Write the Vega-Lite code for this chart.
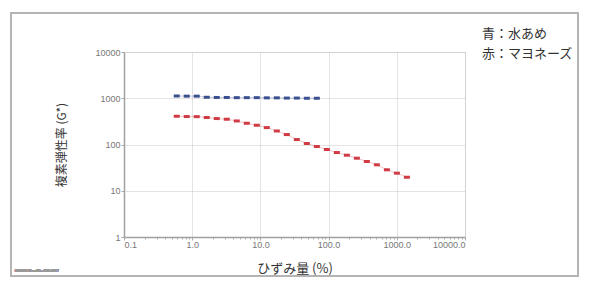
{
  "$schema": "https://vega.github.io/schema/vega-lite/v6.json",
  "width": 341,
  "height": 185,
  "autosize": {"type": "none"},
  "padding": {"left": 124, "top": 52, "right": 126, "bottom": 54},
  "background": "white",
  "title": {
    "text": ["青：水あめ", "赤：マヨネーズ"],
    "anchor": "end",
    "align": "left",
    "frame": "group",
    "orient": "top",
    "dx": 17,
    "dy": 49,
    "offset": 0,
    "font": "Noto Sans CJK JP",
    "fontSize": 13,
    "fontWeight": "normal",
    "color": "#333333",
    "lineHeight": 20
  },
  "data": {
    "values": [
      {"series": "水あめ", "strain": 0.593, "G": 1120},
      {"series": "水あめ", "strain": 0.831, "G": 1110},
      {"series": "水あめ", "strain": 1.165, "G": 1110},
      {"series": "水あめ", "strain": 1.634, "G": 1050},
      {"series": "水あめ", "strain": 2.291, "G": 1040},
      {"series": "水あめ", "strain": 3.212, "G": 1040},
      {"series": "水あめ", "strain": 4.503, "G": 1030},
      {"series": "水あめ", "strain": 6.313, "G": 1030},
      {"series": "水あめ", "strain": 8.851, "G": 1030},
      {"series": "水あめ", "strain": 12.41, "G": 1020},
      {"series": "水あめ", "strain": 17.40, "G": 1020},
      {"series": "水あめ", "strain": 24.39, "G": 1010},
      {"series": "水あめ", "strain": 34.20, "G": 1010},
      {"series": "水あめ", "strain": 47.94, "G": 1000},
      {"series": "水あめ", "strain": 67.22, "G": 1000},
      {"series": "マヨネーズ", "strain": 0.593, "G": 408},
      {"series": "マヨネーズ", "strain": 0.831, "G": 402},
      {"series": "マヨネーズ", "strain": 1.165, "G": 400},
      {"series": "マヨネーズ", "strain": 1.634, "G": 383},
      {"series": "マヨネーズ", "strain": 2.291, "G": 364},
      {"series": "マヨネーズ", "strain": 3.212, "G": 352},
      {"series": "マヨネーズ", "strain": 4.503, "G": 323},
      {"series": "マヨネーズ", "strain": 6.313, "G": 288},
      {"series": "マヨネーズ", "strain": 8.851, "G": 261},
      {"series": "マヨネーズ", "strain": 12.41, "G": 232},
      {"series": "マヨネーズ", "strain": 17.40, "G": 196},
      {"series": "マヨネーズ", "strain": 24.39, "G": 164},
      {"series": "マヨネーズ", "strain": 34.20, "G": 128},
      {"series": "マヨネーズ", "strain": 47.94, "G": 105},
      {"series": "マヨネーズ", "strain": 67.22, "G": 90.5},
      {"series": "マヨネーズ", "strain": 94.24, "G": 78},
      {"series": "マヨネーズ", "strain": 132.1, "G": 67},
      {"series": "マヨネーズ", "strain": 185.2, "G": 58.7},
      {"series": "マヨネーズ", "strain": 259.7, "G": 50.6},
      {"series": "マヨネーズ", "strain": 364.1, "G": 42.9},
      {"series": "マヨネーズ", "strain": 510.5, "G": 36.4},
      {"series": "マヨネーズ", "strain": 715.7, "G": 28.4},
      {"series": "マヨネーズ", "strain": 1003, "G": 24.0},
      {"series": "マヨネーズ", "strain": 1407, "G": 19.6}
    ]
  },
  "encoding": {
    "x": {
      "field": "strain",
      "type": "quantitative",
      "scale": {"type": "log", "domain": [0.1, 10000], "nice": false},
      "axis": {
        "title": "ひずみ量 (%)",
        "titleFont": "Noto Sans CJK JP",
        "titleFontSize": 13,
        "titleFontWeight": "normal",
        "titleColor": "#333333",
        "titleX": 170.5,
        "titleY": 31,
        "titleBaseline": "middle",
        "titleAlign": "center",
        "values": [0.1,0.2,0.3,0.4,0.5,0.6,0.7,0.8,0.9,1,2,3,4,5,6,7,8,9,10,20,30,40,50,60,70,80,90,100,200,300,400,500,600,700,800,900,1000,2000,3000,4000,5000,6000,7000,8000,9000,10000],
        "labelExpr": "abs(log(datum.value)/LN10 - round(log(datum.value)/LN10)) < 0.001 ? format(datum.value, '.1f') : ''",
        "labelFont": "Liberation Sans",
        "labelFontSize": 9,
        "labelColor": "#777777",
        "labelPadding": 0,
        "labelOverlap": false,
        "tickSize": {"condition": {"test": "abs(log(datum.value)/LN10 - round(log(datum.value)/LN10)) < 0.001", "value": 3}, "value": 2},
        "tickColor": "#aaaaaa",
        "domainColor": "#a0a0a0",
        "domainWidth": 1.5,
        "grid": true,
        "gridColor": "#c8c8c8",
        "gridDash": [1, 1],
        "gridOpacity": {"condition": {"test": "abs(log(datum.value)/LN10 - round(log(datum.value)/LN10)) < 0.001", "value": 1}, "value": 0}
      }
    },
    "y": {
      "field": "G",
      "type": "quantitative",
      "scale": {"type": "log", "domain": [1, 10000], "nice": false},
      "axis": {
        "title": "複素弾性率 (G*)",
        "titleFont": "Noto Sans CJK JP",
        "titleFontSize": 12,
        "titleFontWeight": "normal",
        "titleColor": "#333333",
        "titleAngle": -90,
        "titleX": -63,
        "titleY": 92.5,
        "titleBaseline": "middle",
        "titleAlign": "center",
        "values": [1, 10, 100, 1000, 10000],
        "format": ".0f",
        "labelFont": "Liberation Sans",
        "labelFontSize": 9,
        "labelColor": "#777777",
        "labelPadding": 1,
        "tickSize": 3,
        "tickColor": "#aaaaaa",
        "domainColor": "#a0a0a0",
        "domainWidth": 1.5,
        "grid": true,
        "gridColor": "#c8c8c8",
        "gridDash": [1, 1]
      }
    }
  },
  "layer": [
    {
      "mark": {"type": "rect", "filled": false, "stroke": "#b4b4b4", "strokeWidth": 1.5, "clip": false},
      "encoding": {
        "x": {"datum": 0.0022},
        "x2": {"datum": 454000},
        "y": {"datum": 69700},
        "y2": {"datum": 0.1435},
        "color": {"value": null}
      }
    },
    {
      "mark": {"type": "text", "align": "left", "baseline": "middle", "fontSize": 3.5, "color": "#999999", "font": "Liberation Sans", "clip": false},
      "encoding": {
        "x": {"datum": 0.00252},
        "y": {"datum": 0.184},
        "text": {"value": "HAAKE RheoWin 4.50.0017"}
      }
    },
    {
      "mark": {"type": "line", "strokeWidth": 1, "opacity": 0.3},
      "encoding": {
        "color": {"field": "series", "type": "nominal", "scale": {"domain": ["水あめ", "マヨネーズ"], "range": ["#3a4f8f", "#d03a44"]}, "legend": null}
      }
    },
    {
      "mark": {"type": "point", "filled": true, "opacity": 1, "size": 36, "shape": "M-1,-0.5L1,-0.5L1,0.5L-1,0.5Z"},
      "encoding": {
        "color": {"field": "series", "type": "nominal", "scale": {"domain": ["水あめ", "マヨネーズ"], "range": ["#3a4f8f", "#d03a44"]}, "legend": null}
      }
    }
  ]
}
